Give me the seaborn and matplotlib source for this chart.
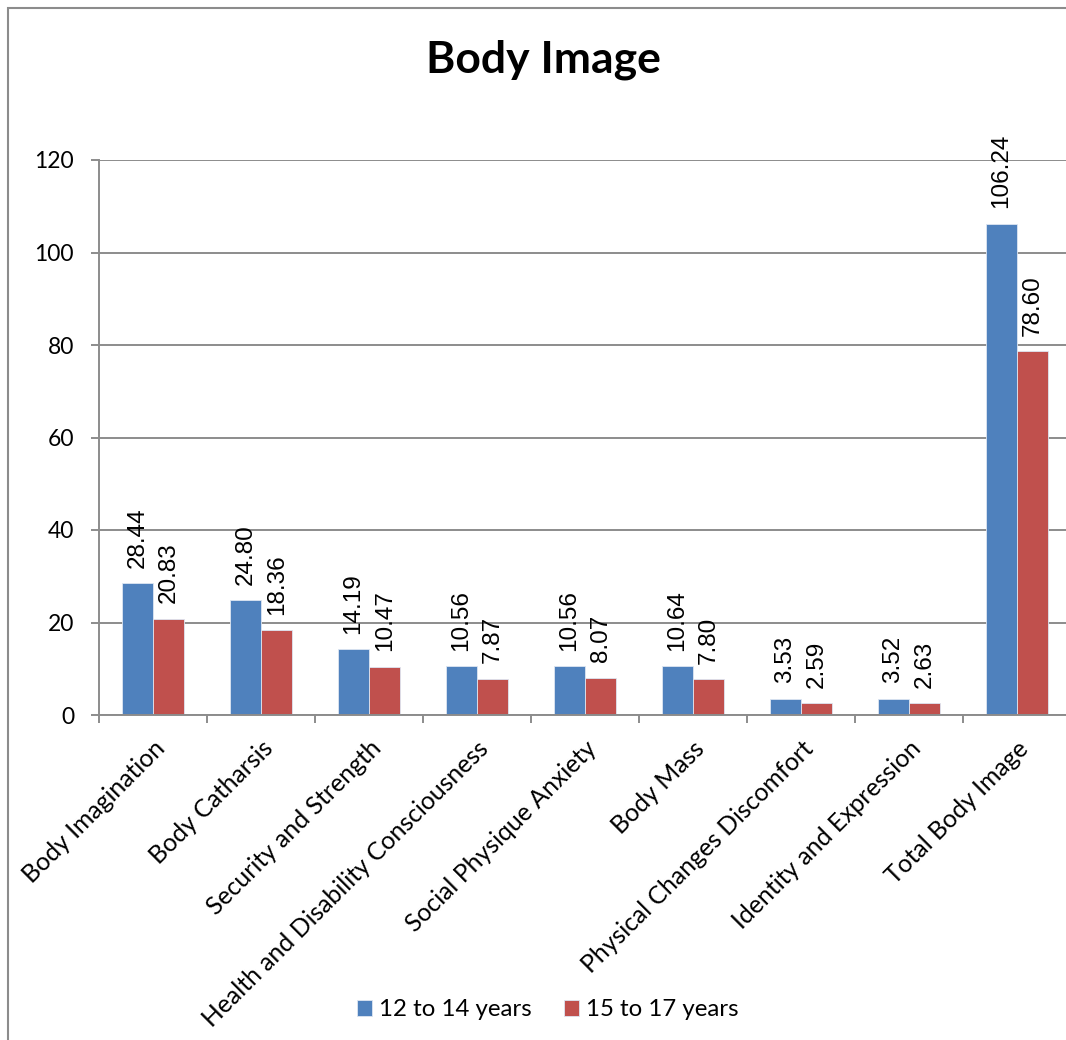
import matplotlib
matplotlib.use("Agg")
import matplotlib.pyplot as plt
from matplotlib.patches import Rectangle
import numpy as np
import pandas as pd
import seaborn as sns

# chart data
categories = [
    "Body Imagination",
    "Body Catharsis",
    "Security and Strength",
    "Health and Disability Consciousness",
    "Social Physique Anxiety",
    "Body Mass",
    "Physical Changes Discomfort",
    "Identity and Expression",
    "Total Body Image",
]
group_names = ["12 to 14 years", "15 to 17 years"]
values_12_14 = [28.44, 24.80, 14.19, 10.56, 10.56, 10.64, 3.53, 3.52, 106.24]
values_15_17 = [20.83, 18.36, 10.47, 7.87, 8.07, 7.80, 2.59, 2.63, 78.60]
y_ticks = [0, 20, 40, 60, 80, 100, 120]

BLUE = "#4F81BD"
RED = "#C0504D"
GRID = "#8C8C8C"

df = pd.DataFrame({
    "category": categories * 2,
    "value": values_12_14 + values_15_17,
    "group": [group_names[0]] * len(categories) + [group_names[1]] * len(categories),
})

sns.set_style("white")
plt.rcParams["font.family"] = ["Lato", "DejaVu Sans"]
plt.rcParams["text.color"] = "black"
plt.rcParams["xtick.labelcolor"] = "black"
plt.rcParams["ytick.labelcolor"] = "black"

W, H = 1066, 1040
fig = plt.figure(figsize=(W / 100, H / 100), dpi=100)
ax = fig.add_axes([99 / W, 1 - 715 / H, 972 / W, 555 / H])

sns.barplot(
    data=df, x="category", y="value", hue="group",
    order=categories, hue_order=group_names,
    palette=[BLUE, RED], width=0.58, saturation=1,
    edgecolor="#DDE6F2", linewidth=0.6, ax=ax,
)

# data labels, rotated like the original
for cont in ax.containers:
    ax.bar_label(cont, fmt="%.2f", rotation=90, padding=11,
                 fontsize=17.5, color="black",
                 family=["Liberation Sans", "DejaVu Sans"])

ax.set_xlim(-0.5, len(categories) - 0.5)
ax.set_ylim(0, 120)
ax.set_yticks(y_ticks)
ax.yaxis.grid(True, color=GRID, linewidth=1.4)
ax.set_axisbelow(True)
ax.set_xlabel("")
ax.set_ylabel("")

for side in ["top", "right"]:
    ax.spines[side].set_visible(False)
for side in ["left", "bottom"]:
    ax.spines[side].set_color(GRID)
    ax.spines[side].set_linewidth(1.4)

ax.tick_params(axis="y", which="major", left=True, length=6, width=1.4,
               color=GRID, labelsize=16.5, pad=12, direction="out")
ax.set_xticks(np.arange(len(categories) + 1) - 0.5, minor=True)
ax.tick_params(axis="x", which="minor", bottom=True, length=6, width=1.4,
               color=GRID, direction="out")
ax.tick_params(axis="x", which="major", bottom=False, labelsize=17.8, pad=12)
plt.setp(ax.get_xticklabels(), rotation=45, ha="right", rotation_mode="anchor")

fig.text(543 / W, 1 - 60 / H, "Body Image", fontsize=32, fontweight="bold",
         ha="center", va="center", color="black")

handles, labels = ax.get_legend_handles_labels()
if ax.legend_ is not None:
    ax.legend_.remove()
fig.legend(handles, labels, loc="center", bbox_to_anchor=(548 / W, 1 - 1010 / H),
           ncol=2, frameon=False, fontsize=17.3, handlelength=0.6, handleheight=0.6,
           handletextpad=0.3, columnspacing=1.35)

# chart area border
fig.patches.append(Rectangle((8 / W, -0.1), 1.2, 1 - 8 / H + 0.1,
                             transform=fig.transFigure, fill=False,
                             edgecolor=GRID, linewidth=1.5))

fig.savefig("out.png", dpi=100)
plt.close(fig)
